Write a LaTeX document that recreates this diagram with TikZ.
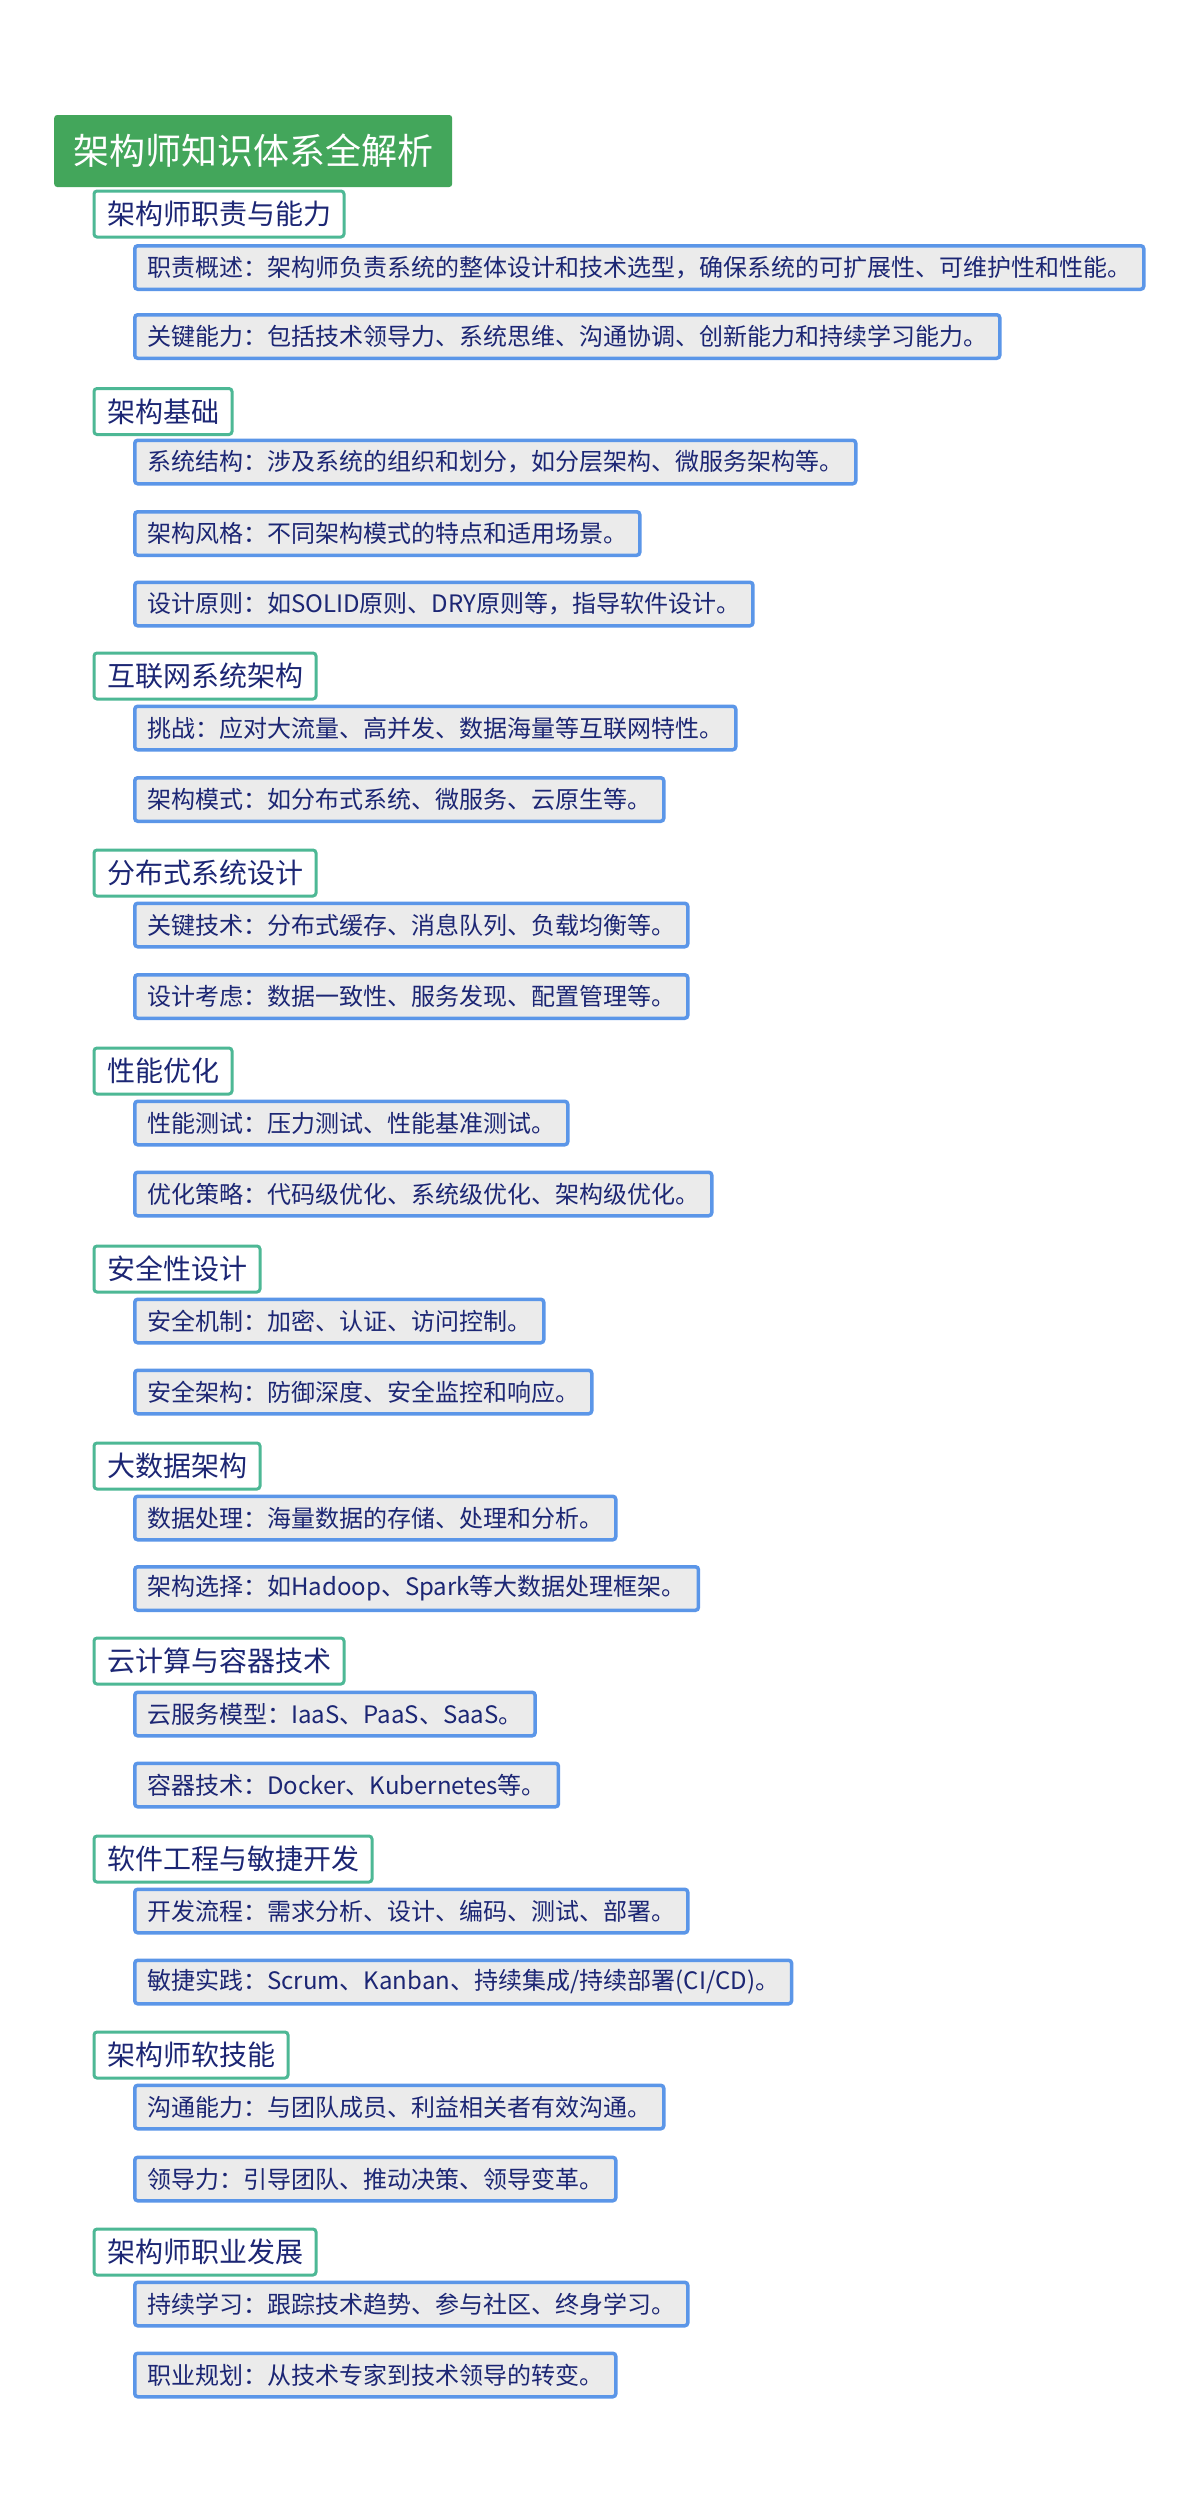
\documentclass[tikz,border=0pt]{standalone}
\usepackage{fontspec}
\setmainfont{Noto Sans CJK SC}
\definecolor{rootgreen}{HTML}{43A65B}
\definecolor{tealline}{HTML}{4DB895}
\definecolor{blueline}{HTML}{5B96E8}
\definecolor{boxgray}{HTML}{EBEBEB}
\definecolor{navytext}{HTML}{1C2674}
\begin{document}
\begin{tikzpicture}[x=1pt,y=-1pt,
  rootbox/.style={fill=rootgreen, rounded corners=3pt, text=white, anchor=west,
    font=\fontsize{36}{42}\selectfont, inner xsep=19pt, inner ysep=0pt, minimum height=72pt},
  topicbox/.style={draw=tealline, line width=3pt, fill=white, rounded corners=3pt, text=navytext, anchor=west,
    font=\fontsize{28}{32}\selectfont, inner xsep=13pt, inner ysep=0pt, minimum height=46pt},
  itembox/.style={draw=blueline, line width=3.5pt, fill=boxgray, rounded corners=3pt, text=navytext, anchor=west,
    font=\fontsize{24}{28}\selectfont, inner xsep=12.5pt, inner ysep=0pt, minimum height=43.5pt}
]
\fill[white] (0,0) rectangle (1200,2513);
\useasboundingbox (0,0) rectangle (1200,2513);

\node[rootbox] (root) at (54,151) {架构师知识体系全解析};

\node[topicbox] (t1) at (92.5,214) {架构师职责与能力};
\node[itembox] (t1a) at (133,267.5) {职责概述：架构师负责系统的整体设计和技术选型，确保系统的可扩展性、可维护性和性能。};
\node[itembox] (t1b) at (133,336.5) {关键能力：包括技术领导力、系统思维、沟通协调、创新能力和持续学习能力。};

\node[topicbox] (t2) at (92.5,411.5) {架构基础};
\node[itembox] (t2a) at (133,462) {系统结构：涉及系统的组织和划分，如分层架构、微服务架构等。};
\node[itembox] (t2b) at (133,533.5) {架构风格：不同架构模式的特点和适用场景。};
\node[itembox] (t2c) at (133,604) {设计原则：如SOLID原则、DRY原则等，指导软件设计。};

\node[topicbox] (t3) at (92.5,676) {互联网系统架构};
\node[itembox] (t3a) at (133,728) {挑战：应对大流量、高并发、数据海量等互联网特性。};
\node[itembox] (t3b) at (133,799.5) {架构模式：如分布式系统、微服务、云原生等。};

\node[topicbox] (t4) at (92.5,873) {分布式系统设计};
\node[itembox] (t4a) at (133,925) {关键技术：分布式缓存、消息队列、负载均衡等。};
\node[itembox] (t4b) at (133,996.5) {设计考虑：数据一致性、服务发现、配置管理等。};

\node[topicbox] (t5) at (92.5,1071) {性能优化};
\node[itembox] (t5a) at (133,1123) {性能测试：压力测试、性能基准测试。};
\node[itembox] (t5b) at (133,1194) {优化策略：代码级优化、系统级优化、架构级优化。};

\node[topicbox] (t6) at (92.5,1269) {安全性设计};
\node[itembox] (t6a) at (133,1321) {安全机制：加密、认证、访问控制。};
\node[itembox] (t6b) at (133,1392) {安全架构：防御深度、安全监控和响应。};

\node[topicbox] (t7) at (92.5,1466) {大数据架构};
\node[itembox] (t7a) at (133,1518) {数据处理：海量数据的存储、处理和分析。};
\node[itembox] (t7b) at (133,1588.5) {架构选择：如Hadoop、Spark等大数据处理框架。};

\node[topicbox] (t8) at (92.5,1661) {云计算与容器技术};
\node[itembox] (t8a) at (133,1714) {云服务模型：IaaS、PaaS、SaaS。};
\node[itembox] (t8b) at (133,1785) {容器技术：Docker、Kubernetes等。};

\node[topicbox] (t9) at (92.5,1859) {软件工程与敏捷开发};
\node[itembox] (t9a) at (133,1911) {开发流程：需求分析、设计、编码、测试、部署。};
\node[itembox] (t9b) at (133,1982) {敏捷实践：Scrum、Kanban、持续集成/持续部署(CI/CD)。};

\node[topicbox] (t10) at (92.5,2055) {架构师软技能};
\node[itembox] (t10a) at (133,2107) {沟通能力：与团队成员、利益相关者有效沟通。};
\node[itembox] (t10b) at (133,2179) {领导力：引导团队、推动决策、领导变革。};

\node[topicbox] (t11) at (92.5,2252) {架构师职业发展};
\node[itembox] (t11a) at (133,2304) {持续学习：跟踪技术趋势、参与社区、终身学习。};
\node[itembox] (t11b) at (133,2375) {职业规划：从技术专家到技术领导的转变。};
\end{tikzpicture}
\end{document}
